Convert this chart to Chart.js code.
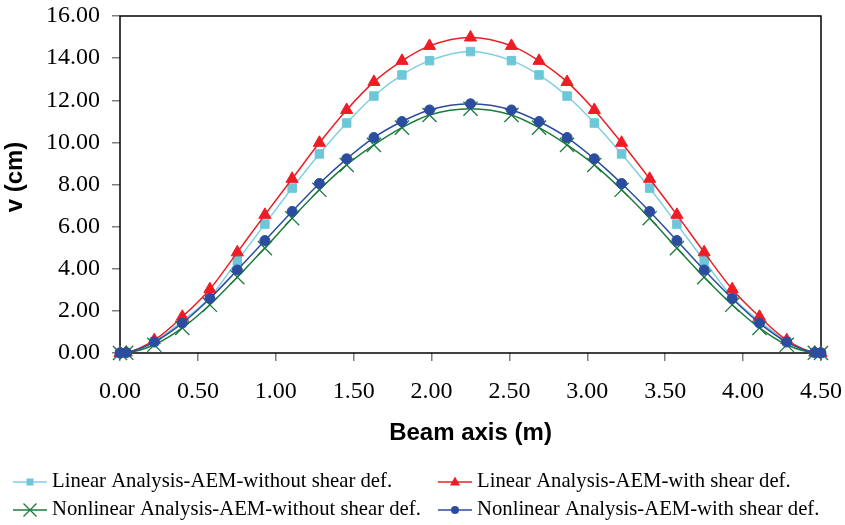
<!DOCTYPE html>
<html>
<head>
<meta charset="utf-8">
<script src="https://cdn.jsdelivr.net/npm/chart.js@4/dist/chart.umd.min.js"></script>
<style>
  body { margin: 0; background: #fff; }
  canvas { display: block; }
</style>
</head>
<body>
<canvas id="myChart" width="845" height="525"></canvas>
<script>
// beam positions (m)
const beamX = [0, 0.04, 0.22, 0.40, 0.577, 0.753, 0.93, 1.105, 1.28, 1.455, 1.63, 1.81, 1.987, 2.25,
               2.513, 2.69, 2.87, 3.045, 3.22, 3.40, 3.575, 3.75, 3.93, 4.105, 4.28, 4.46, 4.50];

// deflections v (cm)
const linearNoShear = [0, 0.02, 0.55, 1.52, 2.65, 4.38, 6.12, 7.83, 9.45, 10.92, 12.20, 13.20, 13.88, 14.31,
                       13.88, 13.20, 12.20, 10.92, 9.45, 7.83, 6.12, 4.38, 2.65, 1.52, 0.55, 0.02, 0];
const linearShear = [0, 0.02, 0.61, 1.72, 3.03, 4.78, 6.56, 8.27, 9.98, 11.54, 12.87, 13.87, 14.58, 14.98,
                     14.58, 13.87, 12.87, 11.54, 9.98, 8.27, 6.56, 4.78, 3.03, 1.72, 0.61, 0.02, 0];
const nonlinearNoShear = [0, 0.01, 0.39, 1.19, 2.29, 3.60, 4.98, 6.40, 7.75, 8.93, 9.88, 10.70, 11.30, 11.60,
                          11.30, 10.70, 9.88, 8.93, 7.75, 6.40, 4.98, 3.60, 2.29, 1.19, 0.39, 0.01, 0];
const nonlinearShear = [0, 0.02, 0.52, 1.42, 2.59, 3.94, 5.34, 6.72, 8.05, 9.22, 10.23, 10.99, 11.54, 11.83,
                        11.54, 10.99, 10.23, 9.22, 8.05, 6.72, 5.34, 3.94, 2.59, 1.42, 0.52, 0.02, 0];

const seriesNames = [
    "Linear Analysis-AEM-without shear def.",
    "Linear Analysis-AEM-with shear def.",
    "Nonlinear Analysis-AEM-without shear def.",
    "Nonlinear Analysis-AEM-with shear def."
];
const yTicks = [0, 2, 4, 6, 8, 10, 12, 14, 16];
const xTicks = [0, 0.5, 1, 1.5, 2, 2.5, 3, 3.5, 4, 4.5];
const yTitle = "v (cm)";

const toPts = (ys) => beamX.map((x, i) => ({ x: x, y: ys[i] }));

Chart.defaults.font.family = "'Liberation Serif', 'Times New Roman', serif";
Chart.defaults.color = "#000";

// frame round the plot area, y title, custom 2-column legend
const framePlugin = {
    id: "frame",
    beforeDatasetsDraw(chart) {
        const { ctx, chartArea: a } = chart;
        ctx.save();
        ctx.strokeStyle = "#000";
        ctx.lineWidth = 1.5;
        ctx.strokeRect(a.left, a.top, a.right - a.left, a.bottom - a.top);
        ctx.restore();
    },
    afterDraw(chart) {
        const ctx = chart.ctx;
        // y axis title (sits a bit above the middle, like the original)
        ctx.save();
        ctx.translate(15, 177);
        ctx.rotate(-Math.PI / 2);
        ctx.font = "bold 24px 'Liberation Sans', Arial, sans-serif";
        ctx.fillStyle = "#000";
        ctx.textAlign = "center";
        ctx.textBaseline = "middle";
        ctx.fillText(yTitle, 0, 0);
        ctx.restore();

        const spots = [[13, 482], [438, 482], [13, 510], [438, 510]];
        ctx.save();
        chart.data.datasets.forEach((ds, i) => {
            const [x, y] = spots[i];
            ctx.strokeStyle = ds.borderColor;
            ctx.lineWidth = 1.5;
            ctx.beginPath();
            ctx.moveTo(x, y);
            ctx.lineTo(x + 34, y);
            ctx.stroke();
            const cx = x + 17;
            ctx.fillStyle = ds.pointBackgroundColor;
            ctx.strokeStyle = ds.pointBorderColor;
            if (ds.pointStyle === "rect") {
                ctx.fillRect(cx - 3.5, y - 3.5, 7, 7);
            } else if (ds.pointStyle === "triangle") {
                ctx.beginPath();
                ctx.moveTo(cx, y - 5.5);
                ctx.lineTo(cx + 5, y + 3.5);
                ctx.lineTo(cx - 5, y + 3.5);
                ctx.closePath();
                ctx.fill();
            } else if (ds.pointStyle === "circle") {
                ctx.beginPath();
                ctx.arc(cx, y, 4, 0, Math.PI * 2);
                ctx.fill();
            } else {
                ctx.lineWidth = 1.3;
                ctx.beginPath();
                ctx.moveTo(cx - 6.5, y - 6.5); ctx.lineTo(cx + 6.5, y + 6.5);
                ctx.moveTo(cx + 6.5, y - 6.5); ctx.lineTo(cx - 6.5, y + 6.5);
                ctx.stroke();
            }
            ctx.fillStyle = "#000";
            ctx.font = "20.7px 'Liberation Serif', serif";
            ctx.textBaseline = "middle";
            ctx.textAlign = "left";
            ctx.fillText(ds.label, x + 39, y);
        });
        ctx.restore();
    }
};

// kill the extra room chart.js keeps for overhanging tick labels
const noOverhang = (s) => {
    s.paddingTop = 0;
    s.paddingBottom = 0;
    s.paddingLeft = 0;
    s.paddingRight = 0;
};

const ctx = document.getElementById("myChart").getContext("2d");
const myChart = new Chart(ctx, {
    type: "line",
    data: {
        datasets: [
            {
                label: seriesNames[0],
                data: toPts(linearNoShear),
                borderColor: "#7DD0E0",
                pointBackgroundColor: "#6CC8D8",
                pointBorderColor: "#6CC8D8",
                pointStyle: "rect",
                pointRadius: 6,
                order: 4
            },
            {
                label: seriesNames[1],
                data: toPts(linearShear),
                borderColor: "#EE1D25",
                pointBackgroundColor: "#EE1D25",
                pointBorderColor: "#EE1D25",
                pointStyle: "triangle",
                pointRadius: 7,
                order: 3
            },
            {
                label: seriesNames[2],
                data: toPts(nonlinearNoShear),
                borderColor: "#1B7A3C",
                pointBackgroundColor: "#1B7A3C",
                pointBorderColor: "#1B7A3C",
                pointStyle: "crossRot",
                pointRadius: 10,
                pointBorderWidth: 1.3,
                order: 2
            },
            {
                label: seriesNames[3],
                data: toPts(nonlinearShear),
                borderColor: "#2C4C9F",
                pointBackgroundColor: "#2C4C9F",
                pointBorderColor: "#2C4C9F",
                pointStyle: "circle",
                pointRadius: 5,
                order: 1
            }
        ]
    },
    options: {
        responsive: false,
        animation: false,
        maintainAspectRatio: false,
        layout: { padding: { top: 16, right: 24, left: 0, bottom: 72 } },
        elements: {
            line: { borderWidth: 1.5, cubicInterpolationMode: "monotone", fill: false },
            point: { borderWidth: 1, hoverRadius: 5 }
        },
        datasets: { line: { clip: false } },
        plugins: {
            legend: { display: false },
            tooltip: { enabled: false }
        },
        scales: {
            x: {
                type: "linear",
                min: 0,
                max: 4.5,
                afterFit: (s) => { s.height = 100; noOverhang(s); },
                afterBuildTicks: (s) => { s.ticks = xTicks.map(v => ({ value: v })); },
                grid: { display: true, drawOnChartArea: false, tickLength: 8, color: "#7f7f7f", lineWidth: 1.5 },
                border: { display: false },
                ticks: {
                    padding: 16,
                    maxRotation: 0,
                    font: { size: 24 },
                    callback: (v) => Number(v).toFixed(2)
                },
                title: {
                    display: true,
                    text: "Beam axis (m)",
                    font: { family: "'Liberation Sans', Arial, sans-serif", size: 24, weight: "bold" },
                    padding: { top: 0, bottom: 5 }
                }
            },
            y: {
                min: 0,
                max: 16,
                afterFit: (s) => { s.width = 120; noOverhang(s); },
                afterBuildTicks: (s) => { s.ticks = yTicks.map(v => ({ value: v })); },
                grid: { display: true, drawOnChartArea: false, tickLength: 8, color: "#7f7f7f", lineWidth: 1.5 },
                border: { display: false },
                ticks: {
                    padding: 12,
                    font: { size: 24 },
                    callback: (v) => Number(v).toFixed(2)
                }
            }
        }
    },
    plugins: [framePlugin]
});
</script>
</body>
</html>
